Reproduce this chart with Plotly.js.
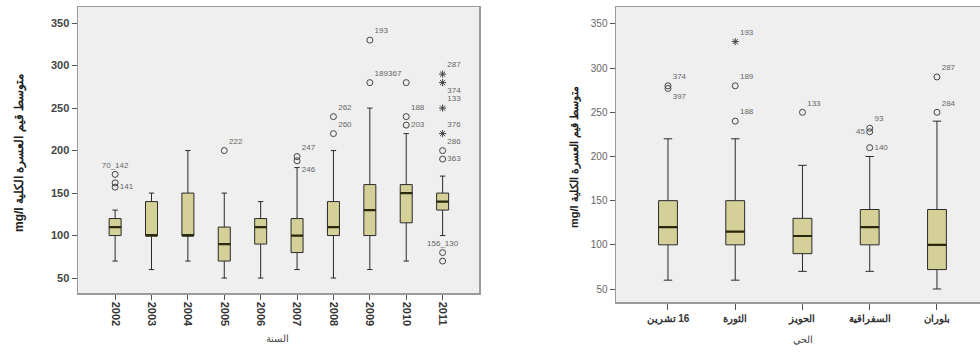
<!DOCTYPE html>
<html><head><meta charset="utf-8">
<script src="https://cdn.plot.ly/plotly-3.0.1.min.js"></script>
<style>html,body{margin:0;padding:0;background:#fff}#c{width:980px;height:352px}</style>
</head><body><div id="c"></div>
<script>
// ---- Left panel: by year ----
const years = ['2002','2003','2004','2005','2006','2007','2008','2009','2010','2011'];
const yrLo  = [70, 60, 70, 50, 50, 60, 50, 60, 70, 100];
const yrQ1  = [100,100,100,70, 90, 80, 100,100,115,130];
const yrMed = [110,100,100,90, 110,100,110,130,150,140];
const yrQ3  = [120,140,150,110,120,120,140,160,160,150];
const yrHi  = [130,150,200,150,140,180,200,250,220,170];
const yrOutX = ['2002','2002','2002','2005','2007','2007','2008','2008','2009','2009','2010','2010','2010','2011','2011','2011','2011'];
const yrOutY = [172,162,157,200,193,188,240,220,330,280,280,240,230,200,190,80,70];
const yrOutLbl = ['70_142','','141','222','247','246','262','260','193','189','367','188','203','286','363','156_130',''];
const yrOutPos = ['top center','top right','middle right','top right','top right','bottom right','top right','top right','top right','top right','top left','top right','middle right','top right','middle right','top center','top right'];
const yrExtX = ['2011','2011','2011','2011'];
const yrExtY = [290,280,250,220];
const yrExtLbl = ['287','374','133','376'];
const yrExtPos = ['top right','bottom right','top right','top right'];

// ---- Right panel: by district ----
const cats = ['\u200F16 تشرين','الثورة','الحويز','السفراقية','بلوران'];
const ctLo  = [60, 60, 70, 70, 50];
const ctQ1  = [100,100,90, 100,72];
const ctMed = [120,115,110,120,100];
const ctQ3  = [150,150,130,140,140];
const ctHi  = [220,220,190,200,240];
const ctOutX = [cats[0],cats[0],cats[1],cats[1],cats[2],cats[3],cats[3],cats[3],cats[4],cats[4]];
const ctOutY = [280,277,280,240,250,232,228,210,290,250];
const ctOutLbl = ['374','397','189','188','133','93','45','140','287','284'];
const ctOutPos = ['top right','bottom right','top right','top right','top right','top right','middle left','middle right','top right','top right'];
const ctExtX = [cats[1]];
const ctExtY = [330];
const ctExtLbl = ['193'];

const yTitle = 'mg/l متوسط قيم العسرة الكلية';
const xTitleL = 'السنة';
const xTitleR = 'الحي';

const FILL = '#D5CF98';
const F = 'Liberation Sans, Arial, sans-serif';

function boxTrace(x, lo, q1, med, q3, hi, xa, ya, w){
  return {type:'box', x:x, lowerfence:lo, q1:q1, median:med, q3:q3, upperfence:hi,
    xaxis:xa, yaxis:ya, width:w, whiskerwidth:0.45, boxpoints:false,
    fillcolor:FILL, line:{color:'#2a2a2a', width:1}, hoverinfo:'skip', showlegend:false};
}
function medTrace(x, med, xa, ya, w){
  return {type:'box', x:x, lowerfence:med, q1:med, median:med, q3:med, upperfence:med,
    xaxis:xa, yaxis:ya, width:w, whiskerwidth:0, boxpoints:false,
    fillcolor:'rgba(0,0,0,0)', line:{color:'#2b2a0c', width:2.2}, hoverinfo:'skip', showlegend:false};
}
function ptTrace(x, y, lbl, pos, sym, xa, ya){
  return {type:'scatter', mode:'markers+text', x:x, y:y, text:lbl, textposition:pos,
    textfont:{family:F, size:8, color:'#666'}, cliponaxis:false,
    marker:{symbol:sym, size:6, color:'#444', line:{width:1, color:'#444'}},
    xaxis:xa, yaxis:ya, hoverinfo:'skip', showlegend:false};
}

const data = [
  boxTrace(years, yrLo, yrQ1, yrMed, yrQ3, yrHi, 'x', 'y', 0.33),
  medTrace(years, yrMed, 'x', 'y', 0.33),
  ptTrace(yrOutX, yrOutY, yrOutLbl, yrOutPos, 'circle-open', 'x', 'y'),
  ptTrace(yrExtX, yrExtY, yrExtLbl, yrExtPos, 'asterisk-open', 'x', 'y'),
  boxTrace(cats, ctLo, ctQ1, ctMed, ctQ3, ctHi, 'x2', 'y2', 0.28),
  medTrace(cats, ctMed, 'x2', 'y2', 0.28),
  ptTrace(ctOutX, ctOutY, ctOutLbl, ctOutPos, 'circle-open', 'x2', 'y2'),
  ptTrace(ctExtX, ctExtY, ctExtLbl, ['top right'], 'asterisk-open', 'x2', 'y2')
];

const axCommon = {showline:true, mirror:true, linecolor:'#9a9a9a', linewidth:1.5,
  showgrid:false, zeroline:false, ticks:'outside', ticklen:5, tickcolor:'#555', fixedrange:true};

const layout = {
  width:980, height:352, margin:{l:0,r:0,t:0,b:0},
  paper_bgcolor:'#fff', plot_bgcolor:'#efefef', font:{family:F},
  xaxis: Object.assign({}, axCommon, {domain:[78/980, 479/980], anchor:'y', type:'category',
    range:[-1.02, 10.0], tickangle:90, tickfont:{family:F, size:11, color:'#333', weight:'bold'}}),
  yaxis: Object.assign({}, axCommon, {domain:[59/352, 345/352], anchor:'x', range:[32.4, 369],
    tickvals:[50,100,150,200,250,300,350], tickfont:{family:F, size:11, color:'#444', weight:'bold'}}),
  xaxis2: Object.assign({}, axCommon, {domain:[616/980, 1], anchor:'y2', type:'category',
    range:[-0.773, 4.64], ticklen:6, tickfont:{family:F, size:10, color:'#333', weight:'bold'}}),
  yaxis2: Object.assign({}, axCommon, {domain:[50/352, 345/352], anchor:'x2', range:[35.3, 369.2],
    tickvals:[50,100,150,200,250,300,350], tickfont:{family:F, size:10, color:'#666'}}),
  annotations:[
    {text:yTitle, xref:'paper', yref:'paper', x:20/980, y:1-153/352, textangle:-90, showarrow:false,
     font:{family:F, size:12, color:'#222', weight:'bold'}, xanchor:'center', yanchor:'middle'},
    {text:yTitle, xref:'paper', yref:'paper', x:574/980, y:1-157/352, textangle:-90, showarrow:false,
     font:{family:F, size:11, color:'#222', weight:'bold'}, xanchor:'center', yanchor:'middle'},
    {text:xTitleL, xref:'paper', yref:'paper', x:277/980, y:1-338/352, showarrow:false,
     font:{family:F, size:10, color:'#444'}, xanchor:'center', yanchor:'middle'},
    {text:xTitleR, xref:'paper', yref:'paper', x:803/980, y:1-339/352, showarrow:false,
     font:{family:F, size:10, color:'#444'}, xanchor:'center', yanchor:'middle'}
  ]
};

Plotly.newPlot('c', data, layout, {staticPlot:true, displayModeBar:false});
</script></body></html>
